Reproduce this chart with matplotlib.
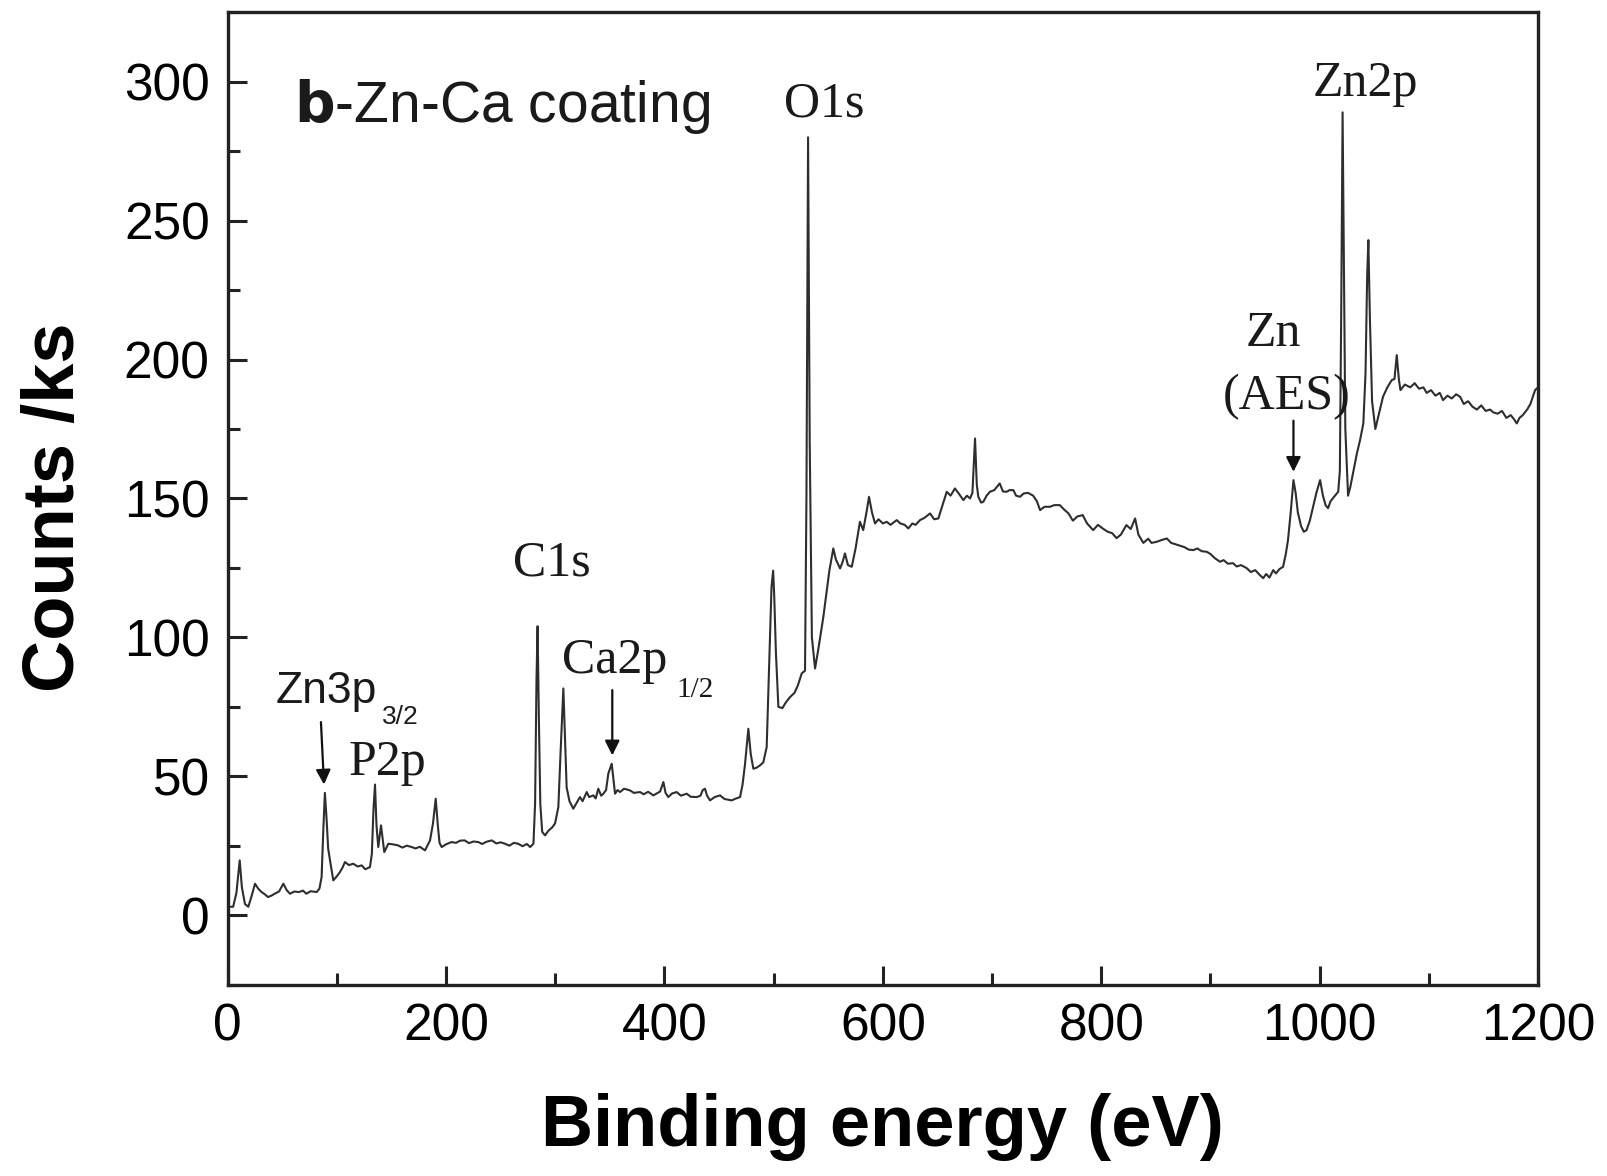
import matplotlib
matplotlib.use("Agg")
import matplotlib.pyplot as plt
from matplotlib.ticker import MultipleLocator

# XPS survey spectrum
energy = [2, 5, 8, 11, 13, 15.8, 18.9, 22, 25, 28, 31, 34, 37, 40, 43, 47, 51, 54, 57, 61,
          65, 69, 72, 76, 81.5, 84, 86, 87.5, 89, 90.5, 92, 93.7, 96.7, 100, 102.8, 105, 107.4,
          111, 115, 119, 122.7, 126, 130.3, 132, 133.5, 134.9, 136.3, 137.9, 139, 140.4, 142,
          143.4, 145, 147.1, 151, 156, 160, 164, 168.5, 172, 176, 180.7, 185.3, 188, 190.5,
          192.5, 194, 196, 200, 205, 209, 213, 217, 221, 225, 229.5, 233, 237, 241.8, 246, 250,
          254, 258, 262, 266, 270, 274, 277, 280, 281.5, 282.8, 283.8, 285, 286.3, 288, 290.6,
          294, 297, 299.8, 302.8, 305, 307.4, 309, 310.4, 313, 316.5, 319, 322.6, 325, 328.8,
          331, 334.8, 337, 339.4, 342, 344, 346.5, 348.6, 351.7, 353.5, 354.7, 357, 359.3, 363,
          368.4, 372, 377.6, 381, 385, 389.8, 393, 396, 399, 401, 403.5, 407, 411.2, 415, 420.4,
          424, 429.5, 433, 435, 437.1, 439, 441.7, 446, 450.9, 455, 461.6, 465, 469.2, 471.5,
          473.8, 476.8, 479, 481.4, 484, 487.5, 490.5, 493.6, 495.5, 496.7, 498, 499.5, 500.5,
          502, 504.3, 508, 511, 515, 519, 522, 525.7, 528.7, 530, 531.5, 533, 535, 537.9, 541,
          545.5, 548, 551, 554.6, 557, 560.8, 563, 565.3, 568, 571.5, 575, 579, 582, 585, 587.3,
          590, 592.8, 596, 600, 603.5, 607, 612.7, 616, 620, 623.3, 627, 630, 634, 638, 643.2,
          647, 650.8, 655, 658.5, 662, 666, 670, 673.7, 677, 679.8, 682, 684.4, 686, 687.4, 690,
          692, 695, 698, 702, 707, 710, 713.4, 716, 719.5, 722, 725.6, 729, 733, 737.6, 741,
          744, 748, 753, 757, 762, 766, 770, 774, 778, 783, 787, 792.6, 797, 802, 806, 810, 814,
          818, 823, 827, 831, 834, 838.5, 843, 846, 850.8, 855, 860, 864, 868, 872, 876, 880,
          884.4, 888, 892, 896.6, 900, 904, 908.8, 912, 916, 920.7, 924, 928, 933.2, 937, 941,
          945, 948.3, 951, 954, 957.5, 960, 963, 966.5, 969, 971, 973.5, 976, 978, 980, 983,
          985.5, 988, 991, 994, 997, 1000.4, 1003, 1005.5, 1007.7, 1010, 1013, 1017, 1018.5,
          1019.8, 1021, 1022.3, 1023.5, 1026, 1028, 1031, 1034, 1037, 1040, 1042, 1043.5,
          1044.6, 1046, 1048, 1051, 1054, 1058, 1062, 1066, 1068.5, 1070.6, 1072.5, 1074, 1078,
          1083, 1087, 1091, 1095, 1098, 1102, 1106, 1110, 1113, 1117, 1121, 1125, 1128.6, 1132,
          1136, 1140, 1144, 1148, 1152, 1156, 1159, 1163, 1167, 1171, 1175, 1178, 1180.5, 1183,
          1186, 1190, 1193, 1197.3, 1200]
counts = [3, 3, 8, 19.7, 10, 4, 3, 7, 11.3, 9.5, 8.3, 7.5, 6.5, 7, 7.7, 8.5, 11.3, 9, 7.7, 8.5,
          8.3, 8.8, 7.7, 8.6, 8.3, 9.5, 13.7, 30, 44, 35, 24, 19.7, 12.5, 14, 15.5, 17, 19.1,
          18, 18.5, 17.5, 17.9, 16.5, 17.3, 22, 38, 47, 32, 24.5, 28, 32.3, 27,
          22.7, 24, 25.7, 25.5, 25.1, 24.3, 25, 24.5, 24, 24.6, 23.3, 26.9, 33, 41.9,
          32, 26, 24.5, 25.5, 26.3, 26, 26.8, 26.9, 25.9, 26.5, 26.3, 25.6, 26.4, 26.9, 25.8, 26.2,
          25.7, 25, 26, 25.7, 24.8, 25.6, 24.5, 25.7, 40, 85, 104, 70, 40, 30, 28.7,
          30.5, 31.5, 33, 38.9, 60, 81.6, 62, 46, 41, 38.3, 40, 42.5, 41, 44.3,
          42.5, 43.1, 42, 45.5, 43, 43.7, 45, 51, 54.5, 48, 43.7, 45, 44.3, 45.5,
          44.9, 44, 44.3, 43.5, 44.4, 43.1, 43.8, 44.5, 47.9, 44, 42.5, 43.8, 44.3, 43, 43.7,
          42.6, 42.5, 43, 45, 45.5, 43, 41.3, 42.5, 43.1, 41.8, 41.3, 41.9, 42.5, 47,
          54.5, 67.1, 58, 52.7, 53, 53.9, 55, 60.5, 85, 101, 118, 124, 115,
          95, 75, 74.5, 76.5, 78.5, 80, 82.5, 87, 88, 150, 280, 170, 100, 88.8, 96,
          107.4, 115, 124, 132, 128, 124.8, 127, 130.2, 126, 125.4, 132, 141.6, 138.6, 145, 150.6,
          145, 141, 142.5, 141, 141.6, 140.5, 142.2, 141, 140.5, 139.2, 141, 140.5, 142.2, 143, 144.6,
          142.5, 142.8, 148, 152.4, 151, 153.6, 151.5, 149.4, 151, 150, 152, 171.6, 155, 150.6, 148.5,
          148.8, 151, 152.4, 153, 155.4, 152.5, 152.4, 153, 153, 151, 150.6, 151.8, 152, 151, 149,
          145.8, 147, 147, 147.6, 147.6, 146, 144.6, 142, 143.5, 144, 141, 138.6, 140.5, 139, 138, 137.5, 135.7,
          137, 140.4, 139, 142.8, 137, 134, 135.5, 134, 134.4, 135, 135.6, 134, 133.5, 133, 132.5, 131.6,
          131.4, 132, 131, 130.8, 130, 128.5, 127.2, 127.8, 126.5, 126.7, 125.5, 126, 124.9, 123.5, 124.2,
          122.5, 121.3, 122.8, 121.5, 124.2, 123, 124.5, 125.4, 130, 135, 145, 156.6, 152, 145, 140,
          138, 138.6, 142, 147, 152, 156.6, 151, 147.5, 146.5, 149, 150.5, 152.4, 160,
          220, 289, 230, 175, 151, 154, 160, 166, 171, 177, 195, 230,
          243, 215, 185, 175, 180, 186.6, 190, 192.6, 193, 201.6, 193, 189, 191,
          190, 191.5, 189.5, 190, 188, 189, 187, 188, 185.4, 187, 186, 187.5, 186.6, 184,
          185, 183, 182, 183.5, 181.5, 182, 181, 180.5, 181.5, 179, 180, 178.5, 177, 179,
          180, 182, 184, 189, 190]

# peak labels: (text, x, y, font, size, ha)
labels = [
    ("O1s", 546, 287.5, "serif", 36, "center"),
    ("Zn2p", 1041.5, 295, "serif", 36, "center"),
    ("Zn", 957.5, 205, "serif", 36, "center"),
    ("(AES)", 970, 182, "serif", 36, "center"),
    ("C1s", 296.6, 122.4, "serif", 36, "center"),
    ("Ca2p", 305.9, 87, "serif", 36, "left"),
    ("1/2", 411, 78.5, "serif", 21, "left"),
    ("Zn3p", 44, 76.2, "sans", 32, "left"),
    ("3/2", 141, 68.9, "sans", 19, "left"),
    ("P2p", 110.5, 50.3, "serif", 36, "left"),
]

# arrows: (x_start, y_start, x_tip, y_tip)
arrows = [
    (85.4, 69.5, 88.2, 47),
    (352.2, 81, 352.2, 57.5),
    (976, 178, 976, 159.6),
]

SANS = "Liberation Sans"
SERIF = "Liberation Serif"

fig = plt.figure(figsize=(16.08, 11.76), dpi=100)
ax = fig.add_axes([0.1416, 0.1628, 0.8149, 0.8267])

ax.plot(energy, counts, color="#2e2e2e", linewidth=1.5)

for text, x, y, fam, size, ha in labels:
    ax.text(x, y, text, family=SANS if fam == "sans" else SERIF, fontsize=size,
            ha=ha, va="baseline", color="#1a1a1a")

for x0, y0, x1, y1 in arrows:
    ax.annotate("", xy=(x1, y1), xytext=(x0, y0),
                arrowprops=dict(arrowstyle="-|>", color="#111111", lw=1.6,
                                mutation_scale=22, shrinkA=0, shrinkB=0))

ax.text(60.4, 285.7, r"$\bf{b}$-Zn-Ca coating", family=SANS, fontsize=41,
        ha="left", va="baseline", color="#1a1a1a")

ax.set_xlim(0, 1200)
ax.set_ylim(-25, 325)
ax.xaxis.set_major_locator(MultipleLocator(200))
ax.xaxis.set_minor_locator(MultipleLocator(100))
ax.yaxis.set_major_locator(MultipleLocator(50))
ax.yaxis.set_minor_locator(MultipleLocator(25))

ax.tick_params(which="both", direction="in", width=2.2, color="#222222",
               top=False, right=False)
ax.tick_params(which="major", length=14, pad=13, labelsize=37)
ax.tick_params(which="minor", length=8.5)
for lab in ax.get_xticklabels() + ax.get_yticklabels():
    lab.set_family(SANS)

for sp in ax.spines.values():
    sp.set_linewidth(2.4)
    sp.set_color("#222222")

ax.set_xlabel("Binding energy (eV)", family=SANS, fontsize=52, fontweight="bold")
ax.set_ylabel("Counts /ks", family=SANS, fontsize=52, fontweight="bold")
ax.xaxis.set_label_coords(0.5, -0.112)
ax.yaxis.set_label_coords(-0.106, 0.491)

plt.savefig("out.png", dpi=100)
